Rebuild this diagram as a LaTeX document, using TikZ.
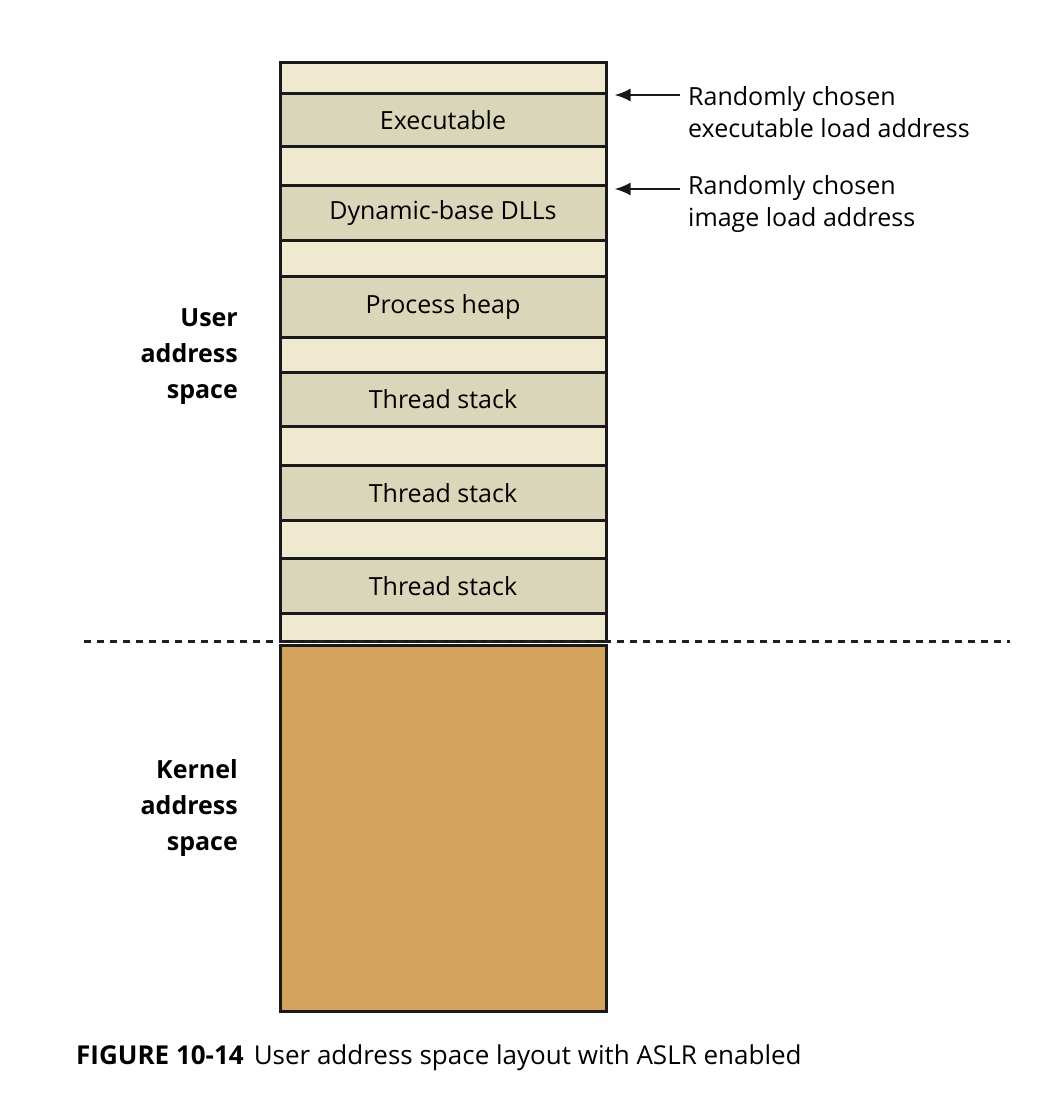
\documentclass[tikz,border=0pt]{standalone}
\usepackage{fontspec}
\setmainfont{Open Sans}
\usetikzlibrary{arrows.meta}
\begin{document}
\begin{tikzpicture}[x=1pt,y=-1pt,
  seg/.style={draw=black!90,line width=3pt,minimum width=326pt,inner sep=0pt,anchor=north,font=\fontsize{25}{28}\selectfont},
  gap/.style={seg,fill={rgb,255:red,239;green,234;blue,207}},
  blk/.style={seg,fill={rgb,255:red,218;green,214;blue,185}},
  kern/.style={seg,fill={rgb,255:red,212;green,164;blue,95}},
  side/.style={font=\fontsize{25}{36}\selectfont\bfseries,align=right,anchor=east,inner sep=0pt},
  note/.style={font=\fontsize{25}{32}\selectfont,align=left,anchor=west,inner sep=0pt},
  arr/.style={line width=2.4pt,black!90,arrows={-Latex[length=16pt,width=13pt]}}]
\useasboundingbox (0,0) rectangle (1053,1114);
\node[gap,minimum height=31pt] (g1) at (443,61) {};
\node[blk,minimum height=53pt] (exe) at (443,92) {Executable};
\node[gap,minimum height=39pt] (g2) at (443,145) {};
\node[blk,minimum height=55pt] (dll) at (443,184) {Dynamic-base DLLs};
\node[gap,minimum height=36pt] (g3) at (443,239) {};
\node[blk,minimum height=61pt] (heap) at (443,275) {Process heap};
\node[gap,minimum height=35pt] (g4) at (443,336) {};
\node[blk,minimum height=54pt] (ts1) at (443,371) {Thread stack};
\node[gap,minimum height=39pt] (g5) at (443,425) {};
\node[blk,minimum height=55pt] (ts2) at (443,464) {Thread stack};
\node[gap,minimum height=38pt] (g6) at (443,519) {};
\node[blk,minimum height=55pt] (ts3) at (443,557) {Thread stack};
\node[gap,minimum height=28pt] (g7) at (443,612) {};
\node[kern,minimum height=366pt] (kernel) at (443,644) {};
\coordinate (dl) at (84,641);
\coordinate (dr) at (1010,641);
\draw[dash pattern=on 7pt off 6pt,line width=3pt,black!88] (dl) -- (dr);
\node[side] (user) at (238,357) {User\\address\\space};
\node[side] (kl) at (238,808) {Kernel\\address\\space};
\node[note] (n1) at (688,112) {Randomly chosen\\executable load address};
\node[note] (n2) at (688,204) {Randomly chosen\\image load address};
\coordinate (a1) at (680,95);
\coordinate (a2) at (680,189);
\coordinate (t1) at ([xshift=7pt]exe.north east);
\coordinate (t2) at ([xshift=7pt]dll.north east);
\draw[arr] (a1) -- (a1 -| t1);
\draw[arr] (a2) -- (a2 -| t2);
\node[anchor=west,inner sep=0pt,font=\fontsize{26}{28}\selectfont] (cap) at (76,1058) {\textbf{FIGURE 10-14}\hspace{10pt}User address space layout with ASLR enabled};
\end{tikzpicture}
\end{document}
